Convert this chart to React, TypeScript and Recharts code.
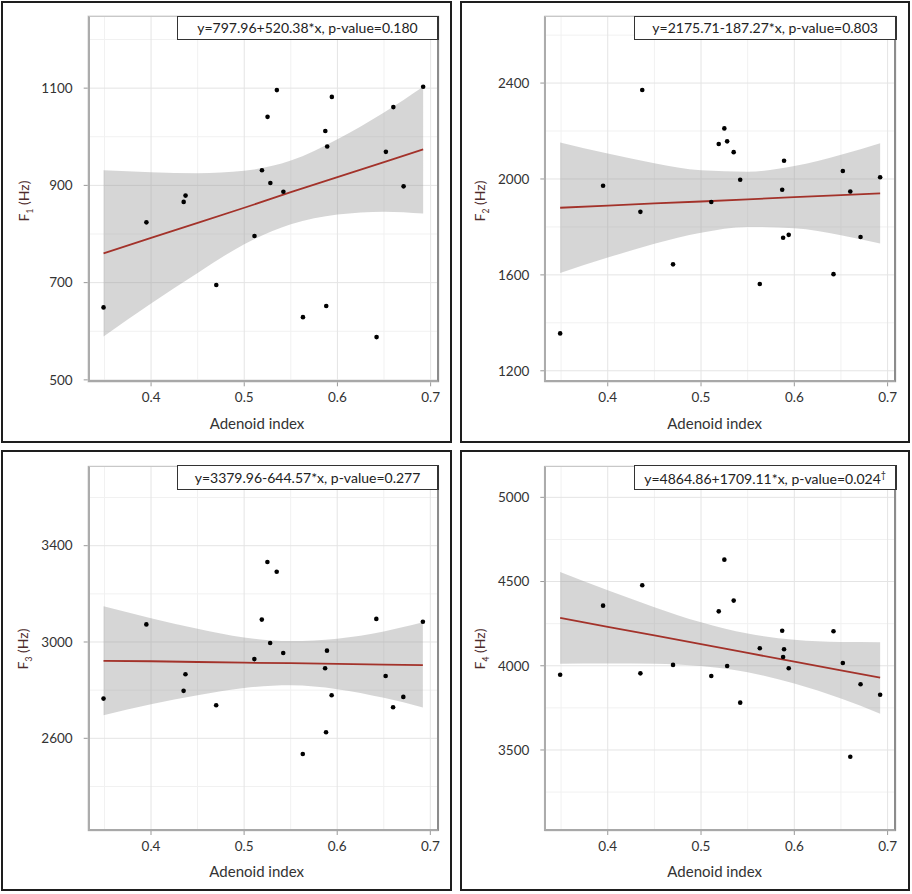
import React from "react";
import {
  Area,
  CartesianGrid,
  ComposedChart,
  Line,
  Scatter,
  XAxis,
  YAxis,
} from "recharts";

// adenoid index of each subject (x) and the four formant frequencies (y)
const adenoidIndex = [
  0.349, 0.395, 0.435, 0.437, 0.47, 0.511, 0.519, 0.525, 0.528, 0.535, 0.542,
  0.563, 0.587, 0.588, 0.589, 0.594, 0.642, 0.652, 0.66, 0.671, 0.692,
];
const f1Hz = [
  649, 824, 866, 879, 695, 796, 931, 1041, 905, 1096, 887, 629, 1012, 652, 980,
  1082, 588, 969, 1061, 898, 1103,
];
const f2Hz = [
  1356, 1972, 1863, 2371, 1644, 1904, 2146, 2211, 2157, 2112, 1997, 1562, 1955,
  1755, 2076, 1767, 1603, 2033, 1948, 1758, 2007,
];
const f3Hz = [
  2765, 3073, 2797, 2866, 2737, 2929, 3093, 3332, 2996, 3292, 2954, 2535, 2891,
  2625, 2964, 2779, 3096, 2859, 2729, 2772, 3084,
];
const f4Hz = [
  3947, 4357, 3955, 4478, 4005, 3939, 4323, 4630, 3999, 4387, 3781, 4104, 4208,
  4052, 4098, 3985, 4205, 4016, 3460, 3890, 3828,
];

// fitted line and confidence band
const fitX = [0.349, 0.4, 0.45, 0.5, 0.55, 0.6, 0.65, 0.692];
const f1Fit = [760, 792, 823, 854, 886, 917, 948, 974];
const f1Lower = [589, 657, 720, 779, 820, 840, 846, 842];
const f1Upper = [931, 927, 925, 930, 951, 995, 1050, 1103];
const f2Fit = [1880, 1889, 1898, 1906, 1915, 1924, 1933, 1940];
const f2Lower = [1608, 1672, 1730, 1776, 1800, 1794, 1765, 1731];
const f2Upper = [2152, 2106, 2066, 2036, 2030, 2054, 2101, 2149];
const f3Fit = [2922, 2920, 2917, 2914, 2912, 2909, 2906, 2904];
const f3Lower = [2696, 2741, 2779, 2809, 2820, 2804, 2768, 2728];
const f3Upper = [3148, 3099, 3055, 3019, 3004, 3014, 3044, 3082];
const f4Fit = [4284, 4231, 4180, 4128, 4076, 4024, 3973, 3929];
const f4Lower = [4012, 4014, 4012, 3998, 3961, 3894, 3805, 3715];
const f4Upper = [4556, 4448, 4348, 4258, 4191, 4154, 4141, 4140];

const xTicks = [0.4, 0.5, 0.6, 0.7];
const xMinor = [0.35, 0.45, 0.55, 0.65];
const f1Ticks = [500, 700, 900, 1100];
const f1Minor = [600, 800, 1000, 1200];
const f2Ticks = [1200, 1600, 2000, 2400];
const f2Minor = [1400, 1800, 2200, 2600];
const f3Ticks = [2600, 3000, 3400];
const f3Minor = [2400, 2800, 3200, 3600];
const f4Ticks = [3500, 4000, 4500, 5000];
const f4Minor = [3250, 3750, 4250, 4750];

const equations = [
  "y=797.96+520.38*x, p-value=0.180",
  "y=2175.71-187.27*x, p-value=0.803",
  "y=3379.96-644.57*x, p-value=0.277",
  "y=4864.86+1709.11*x, p-value=0.024",
];

const FONT = "Lato, 'DejaVu Sans', sans-serif";
const X_DOMAIN: [number, number] = [0.332, 0.709];
const Y_W = 40;
const X_H = 30;

type Box = { left: number; top: number; width: number; height: number };
type Plot = { left: number; top: number; right: number; bottom: number };

const panels = [
  {
    sub: "1",
    ys: f1Hz,
    fit: f1Fit,
    lo: f1Lower,
    hi: f1Upper,
    ticks: f1Ticks,
    minor: f1Minor,
    domain: [495, 1249],
    eq: equations[0],
    dagger: false,
    box: { left: 1, top: 1, width: 451, height: 442 },
    plot: { left: 87.7, top: 15.7, right: 439, bottom: 382.3 },
    note: { left: 177, top: 15.7, width: 262, height: 24.6 },
    yTitle: [25, 200.8],
    xTitle: [257, 422.7],
  },
  {
    sub: "2",
    ys: f2Hz,
    fit: f2Fit,
    lo: f2Lower,
    hi: f2Upper,
    ticks: f2Ticks,
    minor: f2Minor,
    domain: [1152, 2681],
    eq: equations[1],
    dagger: false,
    box: { left: 460, top: 1, width: 450, height: 442 },
    plot: { left: 544.3, top: 15.7, right: 896, bottom: 382.3 },
    note: { left: 634.3, top: 15.7, width: 262.7, height: 24.6 },
    yTitle: [481, 200.8],
    xTitle: [714.7, 422.7],
  },
  {
    sub: "3",
    ys: f3Hz,
    fit: f3Fit,
    lo: f3Lower,
    hi: f3Upper,
    ticks: f3Ticks,
    minor: f3Minor,
    domain: [2215, 3731],
    eq: equations[2],
    dagger: false,
    box: { left: 1, top: 450, width: 451, height: 441 },
    plot: { left: 87.7, top: 466, right: 438.7, bottom: 831 },
    note: { left: 177.3, top: 465.3, width: 261.4, height: 24.4 },
    yTitle: [24.3, 648.7],
    xTitle: [256.7, 871.3],
  },
  {
    sub: "4",
    ys: f4Hz,
    fit: f4Fit,
    lo: f4Lower,
    hi: f4Upper,
    ticks: f4Ticks,
    minor: f4Minor,
    domain: [3019, 5186],
    eq: equations[3],
    dagger: true,
    box: { left: 460, top: 450, width: 450, height: 441 },
    plot: { left: 544.3, top: 466, right: 896, bottom: 831 },
    note: { left: 634.3, top: 465, width: 262.7, height: 24.7 },
    yTitle: [481, 648.7],
    xTitle: [714.7, 871.3],
  },
];

const Dot = (p: any) => <circle cx={p.cx} cy={p.cy} r={2.3} fill="#000" />;

function Panel({ cfg }: { cfg: (typeof panels)[number] }) {
  const box: Box = cfg.box;
  const plot: Plot = cfg.plot;
  const points = adenoidIndex.map((x, i) => ({ x, y: cfg.ys[i] }));
  const band = fitX.map((x, i) => ({
    x,
    fit: cfg.fit[i],
    band: [cfg.lo[i], cfg.hi[i]],
  }));
  const margin = {
    top: plot.top - box.top,
    right: box.left + box.width - plot.right,
    bottom: box.top + box.height - plot.bottom - X_H,
    left: plot.left - box.left - Y_W,
  };
  const tick = { fontSize: 13.5, fill: "#333", fontFamily: FONT };

  return (
    <>
      <div
        style={{
          position: "absolute",
          left: box.left,
          top: box.top,
          width: box.width,
          height: box.height,
          border: "2px solid #1e1e1e",
          boxSizing: "border-box",
        }}
      />
      <div style={{ position: "absolute", left: box.left, top: box.top }}>
        <ComposedChart
          width={box.width}
          height={box.height}
          data={band}
          margin={margin}
        >
          <CartesianGrid
            stroke="#f1f1f1"
            horizontalValues={cfg.minor}
            verticalValues={xMinor}
          />
          <CartesianGrid stroke="#e4e4e4" />
          <XAxis
            dataKey="x"
            type="number"
            domain={X_DOMAIN}
            ticks={xTicks}
            allowDataOverflow
            tickFormatter={(v: number) => v.toFixed(1)}
            tick={tick}
            tickLine={{ stroke: "#999" }}
            tickSize={4}
            tickMargin={6}
            axisLine={false}
            height={X_H}
          />
          <YAxis
            type="number"
            domain={cfg.domain}
            ticks={cfg.ticks}
            allowDataOverflow
            tick={tick}
            tickLine={{ stroke: "#999" }}
            tickSize={4}
            tickMargin={11}
            axisLine={false}
            width={Y_W}
          />
          <Area
            dataKey="band"
            type="monotone"
            fill="#999999"
            fillOpacity={0.4}
            stroke="none"
            isAnimationActive={false}
          />
          <Line
            dataKey="fit"
            type="linear"
            stroke="#a3322a"
            strokeWidth={1.8}
            dot={false}
            isAnimationActive={false}
          />
          <Scatter
            data={points}
            dataKey="y"
            shape={Dot}
            isAnimationActive={false}
          />
        </ComposedChart>
      </div>
      <div
        style={{
          position: "absolute",
          left: plot.left,
          top: plot.top,
          width: plot.right - plot.left,
          height: plot.bottom - plot.top,
          borderTop: "1px solid #c8c8c8",
          borderLeft: "2px solid #acacac",
          borderRight: "2px solid #8c8c8c",
          borderBottom: "2px solid #a8a8a8",
          boxSizing: "border-box",
          pointerEvents: "none",
        }}
      />
      <div
        style={{
          position: "absolute",
          left: cfg.note.left,
          top: cfg.note.top,
          width: cfg.note.width,
          height: cfg.note.height,
          border: "1px solid #333",
          borderRight: "2px solid #333",
          boxSizing: "border-box",
          background: "#fff",
          display: "flex",
          alignItems: "center",
          justifyContent: "center",
          fontSize: 14,
          color: "#222",
          whiteSpace: "nowrap",
        }}
      >
        <span>
          {cfg.eq}
          {cfg.dagger ? <sup style={{ fontSize: 9 }}>†</sup> : null}
        </span>
      </div>
      <div
        style={{
          position: "absolute",
          left: cfg.yTitle[0],
          top: cfg.yTitle[1],
          transform: "translate(-50%, -50%) rotate(-90deg)",
          fontSize: 14,
          color: "#4d2c2c",
          whiteSpace: "nowrap",
        }}
      >
        F<sub style={{ fontSize: 8.5 }}>{cfg.sub}</sub> (Hz)
      </div>
      <div
        style={{
          position: "absolute",
          left: cfg.xTitle[0],
          top: cfg.xTitle[1],
          transform: "translate(-50%, -50%)",
          fontSize: 15,
          color: "#333",
          whiteSpace: "nowrap",
        }}
      >
        Adenoid index
      </div>
    </>
  );
}

export default function App() {
  return (
    <div
      style={{
        position: "absolute",
        left: 0,
        top: 0,
        width: 912,
        height: 894,
        background: "#fff",
        fontFamily: FONT,
      }}
    >
      {panels.map((p) => (
        <Panel key={p.sub} cfg={p} />
      ))}
    </div>
  );
}
